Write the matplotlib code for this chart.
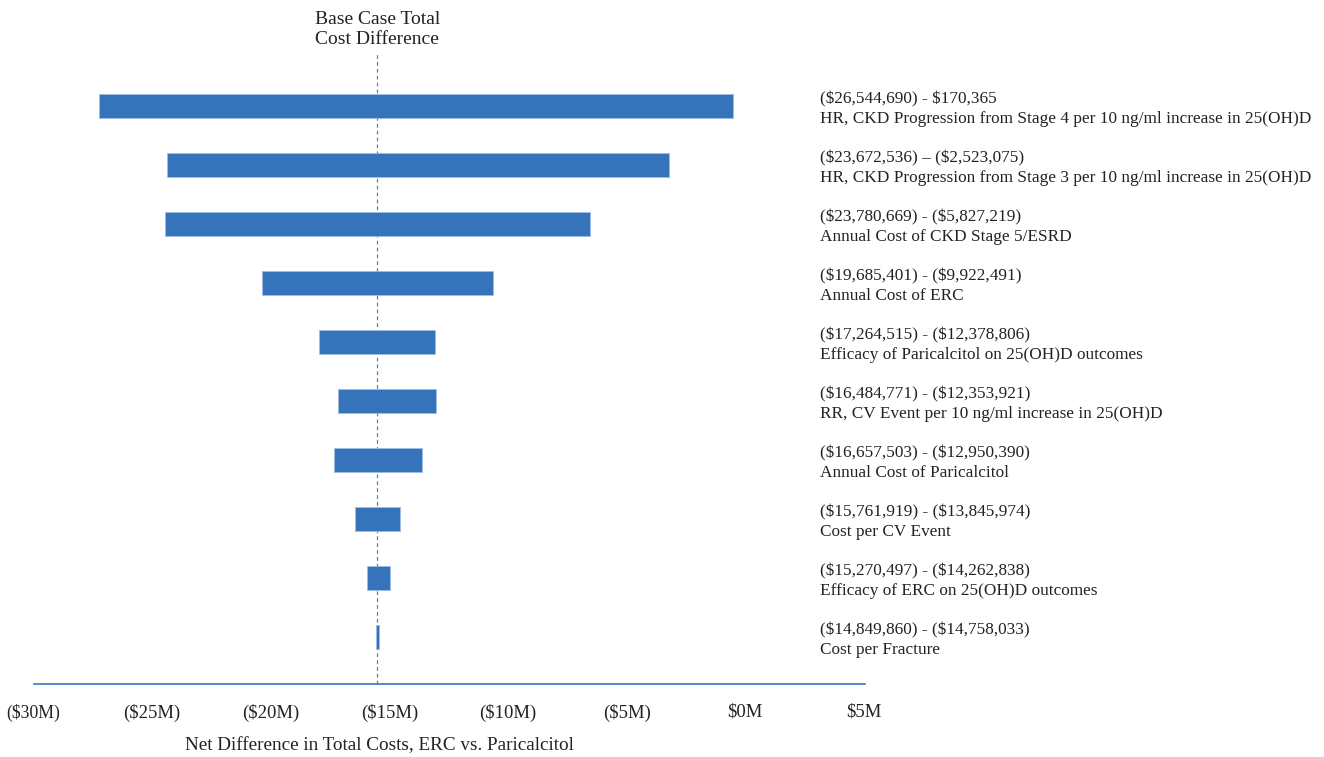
import numpy as np
import matplotlib
matplotlib.use("Agg")
import matplotlib.pyplot as plt
import matplotlib.transforms as mtransforms

# tornado data (total cost difference, ERC vs. paricalcitol)
params = [
    "HR, CKD Progression from Stage 4 per 10 ng/ml increase in 25(OH)D",
    "HR, CKD Progression from Stage 3 per 10 ng/ml increase in 25(OH)D",
    "Annual Cost of CKD Stage 5/ESRD",
    "Annual Cost of ERC",
    "Efficacy of Paricalcitol on 25(OH)D outcomes",
    "RR, CV Event per 10 ng/ml increase in 25(OH)D",
    "Annual Cost of Paricalcitol",
    "Cost per CV Event",
    "Efficacy of ERC on 25(OH)D outcomes",
    "Cost per Fracture",
]
low = [-26544690, -23672536, -23780669, -19685401, -17264515,
       -16484771, -16657503, -15761919, -15270497, -14849860]
high = [170365, -2523075, -5827219, -9922491, -12378806,
        -12353921, -12950390, -13845974, -14262838, -14758033]
dashes = [" - ", " \u2013 ", " - ", " - ", " - ", " - ", " - ", " - ", " - ", " - "]
base_case = -14.82e6

ticks = [-30e6, -25e6, -20e6, -15e6, -10e6, -5e6, 0, 5e6]
tick_labels = ["($30M)", "($25M)", "($20M)", "($15M)", "($10M)", "($5M)", "$0M", "$5M"]


def money(v):
    if v < 0:
        return "(${:,})".format(-v)
    return "${:,}".format(v)


plt.rcParams["font.family"] = ["Liberation Serif", "DejaVu Serif"]
plt.rcParams["text.parse_math"] = False
text_col = "#222222"
bar_col = "#3574bb"

W, H = 1324, 757
fig = plt.figure(figsize=(W / 100, H / 100), dpi=100)
# axes spans data -30.2M .. 6M horizontally, bars area 52px..684px vertically
ax = fig.add_axes([12.4 / W, 1 - 684 / H, (871 - 12.4) / W, (684 - 52) / H])

y = np.arange(len(params))
widths = np.array(high) - np.array(low)
ax.barh(y, widths, left=low, height=0.41, color=bar_col, edgecolor="#9dbde3",
        linewidth=0.6, zorder=2)

ax.set_xlim(-30.2e6, 6e6)
ax.set_ylim(9.797, -0.915)

ax.axvline(base_case, color="#5580b8", linestyle=(0, (3, 2.5)), linewidth=0.9, zorder=1)

for i in range(len(params)):
    ax.annotate(money(low[i]) + dashes[i] + money(high[i]) + "\n" + params[i],
                xy=(1, y[i]), xycoords=("axes fraction", "data"),
                xytext=(820 - 871, -3), textcoords="offset pixels",
                ha="left", va="center", fontsize=12.4, color=text_col,
                linespacing=1.3, annotation_clip=False)

top_tr = mtransforms.blended_transform_factory(ax.transData, fig.transFigure)
ax.text(base_case, 1 - 29.5 / H, "Base Case Total\nCost Difference", ha="center",
        va="center", fontsize=14, color=text_col, linespacing=1.2, transform=top_tr)

for s in ["top", "left", "right"]:
    ax.spines[s].set_visible(False)
ax.spines["bottom"].set_bounds(-29.3e6, 5.75e6)
ax.spines["bottom"].set_color("#3a75c4")
ax.spines["bottom"].set_linewidth(1.2)

ax.set_yticks([])
ax.set_xticks(ticks)
ax.set_xticklabels(tick_labels, fontsize=13.5, color=text_col)
ax.tick_params(axis="x", length=0, pad=14)
shift = mtransforms.ScaledTranslation(16.5 / 100, 0, fig.dpi_scale_trans)
for lab in ax.get_xticklabels():
    lab.set_transform(lab.get_transform() + shift)
ax.get_xticklabels()[0].set_fontsize(12.8)

fig.text(379.5 / W, 1 - 746 / H, "Net Difference in Total Costs, ERC vs. Paricalcitol",
         ha="center", va="center", fontsize=13.8, color=text_col)

fig.savefig("out.png", dpi=100)
